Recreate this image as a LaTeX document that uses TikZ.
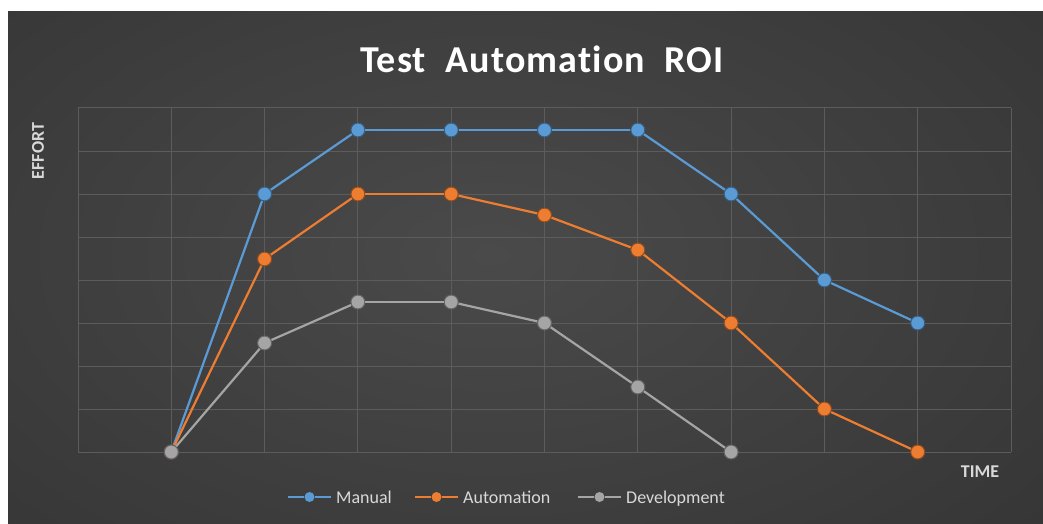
\documentclass[tikz,border=0pt]{standalone}
\usepackage{fontspec}
\setmainfont{Carlito}
\newfontfamily\titlefont[Ligatures=NoCommon, LetterSpace=3, BoldFont={Carlito Bold}]{Carlito}
\definecolor{bgbase}{HTML}{2E2E2E}
\definecolor{bgin}{HTML}{4A4A4A}
\definecolor{gridc}{HTML}{5C5C5C}
\definecolor{manc}{HTML}{5B9BD5}
\definecolor{autc}{HTML}{ED7D31}
\definecolor{devc}{HTML}{A5A5A5}
\definecolor{txtc}{HTML}{D9D9D9}
\tikzset{
  gridline/.style={draw=gridc, line width=1},
  mpt/.style={circle, inner sep=0, minimum size=14, fill=manc, draw=manc!60!black, line width=1},
  apt/.style={circle, inner sep=0, minimum size=14, fill=autc, draw=autc!60!black, line width=1},
  dpt/.style={circle, inner sep=0, minimum size=14, fill=devc, draw=devc!60!black, line width=1},
  lpt/.style={circle, inner sep=0, minimum size=10},
  mline/.style={draw=manc, line width=2.2},
  aline/.style={draw=autc, line width=2.2},
  dline/.style={draw=devc, line width=2.2},
  legtxt/.style={text=txtc, font=\fontsize{18}{20}\selectfont, anchor=base west, inner sep=0},
  axlab/.style={text=txtc, font=\bfseries\fontsize{18}{20}\selectfont, inner sep=0},
}
\begin{document}
\begin{tikzpicture}[x=1pt,y=-1pt]
\useasboundingbox (0,0) rectangle (1043,524);
\fill[white] (0,0) rectangle (1043,524);
\begin{scope}
  \clip (8,12) rectangle (1043,524);
  \fill[bgbase] (8,12) rectangle (1043,524);
  \shade[inner color=bgin, outer color=bgbase] (-520,-330) rectangle (1500,840);
\end{scope}
% grid
\foreach \k in {0,...,8} {
  \draw[gridline] (78,452-43*\k) -- (1011,452-43*\k);
}
\foreach \k in {0,...,10} {
  \draw[gridline] (78+93.3*\k,108) -- (78+93.3*\k,452);
}
% title and axis labels
\node[text=white, font=\titlefont\bfseries\fontsize{38}{42}\selectfont] (title) at (542,59) {Test\ \ Automation\ \ ROI};
\node[axlab, rotate=90] (ylab) at (38,151) {EFFORT};
\node[axlab] (xlab) at (980,472) {TIME};
% Manual
\node[mpt] (m0) at (171.3,452) {};
\node[mpt] (m1) at (264.6,194) {};
\node[mpt] (m2) at (357.9,130) {};
\node[mpt] (m3) at (451.2,130) {};
\node[mpt] (m4) at (544.5,130) {};
\node[mpt] (m5) at (637.8,130) {};
\node[mpt] (m6) at (731.1,194) {};
\node[mpt] (m7) at (824.4,280) {};
\node[mpt] (m8) at (917.7,323) {};
\foreach \a/\b in {m0/m1,m1/m2,m2/m3,m3/m4,m4/m5,m5/m6,m6/m7,m7/m8} \draw[mline] (\a) -- (\b);
% Automation
\node[apt] (a0) at (171.3,452) {};
\node[apt] (a1) at (264.6,259) {};
\node[apt] (a2) at (357.9,194) {};
\node[apt] (a3) at (451.2,194) {};
\node[apt] (a4) at (544.5,215) {};
\node[apt] (a5) at (637.8,250) {};
\node[apt] (a6) at (731.1,323) {};
\node[apt] (a7) at (824.4,409) {};
\node[apt] (a8) at (917.7,452) {};
\foreach \a/\b in {a0/a1,a1/a2,a2/a3,a3/a4,a4/a5,a5/a6,a6/a7,a7/a8} \draw[aline] (\a) -- (\b);
% Development
\node[dpt] (d0) at (171.3,452) {};
\node[dpt] (d1) at (264.6,343) {};
\node[dpt] (d2) at (357.9,302) {};
\node[dpt] (d3) at (451.2,302) {};
\node[dpt] (d4) at (544.5,323) {};
\node[dpt] (d5) at (637.8,387) {};
\node[dpt] (d6) at (731.1,452) {};
\foreach \a/\b in {d0/d1,d1/d2,d2/d3,d3/d4,d4/d5,d5/d6} \draw[dline] (\a) -- (\b);
% legend
\coordinate (lm1) at (288,497); \coordinate (lm2) at (331,497);
\node[lpt, fill=manc] (lmk) at (309.5,497) {};
\draw[mline] (lm1) -- (lmk) -- (lm2);
\node[legtxt] (lmt) at (336,503) {Manual};
\coordinate (la1) at (415,497); \coordinate (la2) at (458,497);
\node[lpt, fill=autc] (lak) at (436.5,497) {};
\draw[aline] (la1) -- (lak) -- (la2);
\node[legtxt] (lat) at (463,503) {Automation};
\coordinate (ld1) at (578,497); \coordinate (ld2) at (621,497);
\node[lpt, fill=devc] (ldk) at (599.5,497) {};
\draw[dline] (ld1) -- (ldk) -- (ld2);
\node[legtxt] (ldt) at (626,503) {Development};
\end{tikzpicture}
\end{document}
